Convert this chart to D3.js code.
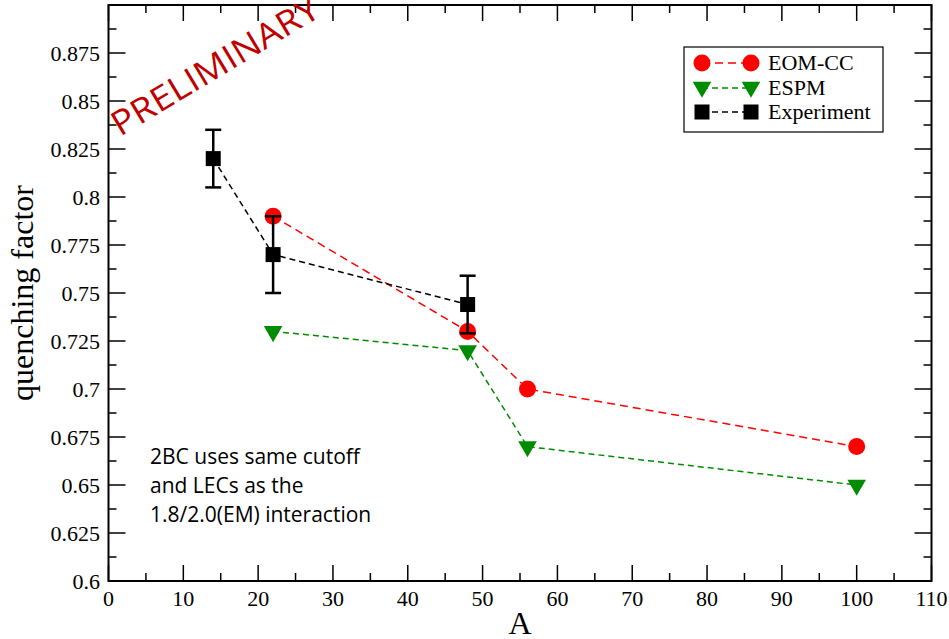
<!DOCTYPE html>
<html lang="en">
<head>
<meta charset="UTF-8">
<title>quenching factor</title>
<script src="https://cdnjs.cloudflare.com/ajax/libs/d3/7.8.5/d3.min.js"></script>
<style>
  body { margin: 0; background: #fff; }
</style>
</head>
<body>
<svg id="chart" width="949" height="639"></svg>
<script>
// data
const eomA = [22, 48, 56, 100];
const eomQ = [0.79, 0.73, 0.70, 0.67];
const espmA = [22, 48, 56, 100];
const espmQ = [0.73, 0.72, 0.67, 0.65];
const expA = [14, 22, 48];
const expQ = [0.82, 0.77, 0.744];
const expErr = [0.015, 0.02, 0.015];

const xTicks = [0, 10, 20, 30, 40, 50, 60, 70, 80, 90, 100, 110];
const yTicks = [0.6, 0.625, 0.65, 0.675, 0.7, 0.725, 0.75, 0.775, 0.8, 0.825, 0.85, 0.875];
const yLabels = ["0.6", "0.625", "0.65", "0.675", "0.7", "0.725", "0.75", "0.775", "0.8", "0.825", "0.85", "0.875"];
const noteLines = ["2BC uses same cutoff", "and LECs as the", "1.8/2.0(EM) interaction"];

const serif = "'Liberation Serif', 'DejaVu Serif', serif";
const sans = "'Open Sans', 'Noto Sans', sans-serif";

const svg = d3.select("#chart");
const pl = 108.5, pr = 931.5, pt = 5, pb = 581;

const x = d3.scaleLinear().domain([0, 110]).range([pl, pr]);
const y = d3.scaleLinear().domain([0.6, 0.9]).range([pb, pt]);

// ticks (inward, on all four sides)
const xMinor = d3.range(5, 110, 10);
const yMinor = d3.range(0, 24).map(i => 0.6125 + i * 0.025).filter(v => v < 0.9);

const ticks = svg.append("g").attr("stroke", "black").attr("stroke-width", 1.5);
xTicks.forEach(v => {
  ticks.append("line").attr("x1", x(v)).attr("x2", x(v)).attr("y1", pb).attr("y2", pb - 16);
  ticks.append("line").attr("x1", x(v)).attr("x2", x(v)).attr("y1", pt).attr("y2", pt + 16);
});
xMinor.forEach(v => {
  ticks.append("line").attr("x1", x(v)).attr("x2", x(v)).attr("y1", pb).attr("y2", pb - 8);
  ticks.append("line").attr("x1", x(v)).attr("x2", x(v)).attr("y1", pt).attr("y2", pt + 8);
});
yTicks.forEach(v => {
  ticks.append("line").attr("y1", y(v)).attr("y2", y(v)).attr("x1", pl).attr("x2", pl + 17);
  ticks.append("line").attr("y1", y(v)).attr("y2", y(v)).attr("x1", pr).attr("x2", pr - 17);
});
yMinor.forEach(v => {
  ticks.append("line").attr("y1", y(v)).attr("y2", y(v)).attr("x1", pl).attr("x2", pl + 8);
  ticks.append("line").attr("y1", y(v)).attr("y2", y(v)).attr("x1", pr).attr("x2", pr - 8);
});

// tick labels
svg.append("g").selectAll("text").data(xTicks).enter().append("text")
  .attr("x", d => x(d)).attr("y", pb + 25)
  .attr("text-anchor", "middle").attr("font-family", serif).attr("font-size", 22)
  .text(d => d);
svg.append("g").selectAll("text").data(yTicks).enter().append("text")
  .attr("x", pl - 8.5).attr("y", d => y(d) + 8)
  .attr("text-anchor", "end").attr("font-family", serif).attr("font-size", 22)
  .text((d, i) => yLabels[i]);

// axis titles
svg.append("text").attr("x", 520).attr("y", 634)
  .attr("text-anchor", "middle").attr("font-family", serif).attr("font-size", 32).text("A");
svg.append("text").attr("transform", `translate(33,${(pt + pb) / 2}) rotate(-90)`)
  .attr("text-anchor", "middle").attr("font-family", serif).attr("font-size", 32).text("quenching factor");

// series
const line = d3.line().x(d => x(d[0])).y(d => y(d[1]));
const eom = eomA.map((a, i) => [a, eomQ[i]]);
const espm = espmA.map((a, i) => [a, espmQ[i]]);
const exp = expA.map((a, i) => [a, expQ[i], expErr[i]]);

svg.append("path").datum(eom).attr("d", line)
  .attr("fill", "none").attr("stroke", "#ff0000").attr("stroke-width", 1.5).attr("stroke-dasharray", "8,5");
svg.append("g").selectAll("circle").data(eom).enter().append("circle")
  .attr("cx", d => x(d[0])).attr("cy", d => y(d[1])).attr("r", 8.5).attr("fill", "#ff0000");

svg.append("path").datum(espm).attr("d", line)
  .attr("fill", "none").attr("stroke", "#008c00").attr("stroke-width", 1.5).attr("stroke-dasharray", "6,4");
const tri = d3.symbol().type(d3.symbolTriangle).size(150);
svg.append("g").selectAll("path").data(espm).enter().append("path")
  .attr("d", tri)
  .attr("transform", d => `translate(${x(d[0])},${y(d[1])}) rotate(180)`)
  .attr("fill", "#008c00");

svg.append("path").datum(exp).attr("d", line)
  .attr("fill", "none").attr("stroke", "black").attr("stroke-width", 1.5).attr("stroke-dasharray", "6,4");
const eb = svg.append("g").attr("stroke", "black").attr("stroke-width", 2.5);
exp.forEach(d => {
  const cx = x(d[0]);
  eb.append("line").attr("x1", cx).attr("x2", cx).attr("y1", y(d[1] - d[2])).attr("y2", y(d[1] + d[2]));
  eb.append("line").attr("x1", cx - 8).attr("x2", cx + 8).attr("y1", y(d[1] - d[2])).attr("y2", y(d[1] - d[2]));
  eb.append("line").attr("x1", cx - 8).attr("x2", cx + 8).attr("y1", y(d[1] + d[2])).attr("y2", y(d[1] + d[2]));
});
svg.append("g").selectAll("rect").data(exp).enter().append("rect")
  .attr("x", d => x(d[0]) - 7.5).attr("y", d => y(d[1]) - 7.5)
  .attr("width", 15).attr("height", 15).attr("fill", "black");

// frame
svg.append("rect").attr("x", pl).attr("y", pt).attr("width", pr - pl).attr("height", pb - pt)
  .attr("fill", "none").attr("stroke", "black").attr("stroke-width", 2);

// legend
const lg = svg.append("g");
lg.append("rect").attr("x", 684).attr("y", 47).attr("width", 199).attr("height", 85)
  .attr("fill", "white").attr("stroke", "black").attr("stroke-width", 1.2);
const legendItems = [
  { name: "EOM-CC", color: "#ff0000", dash: "8,5", sym: "circle", yy: 63 },
  { name: "ESPM", color: "#008c00", dash: "6,4", sym: "tri", yy: 88 },
  { name: "Experiment", color: "black", dash: "6,4", sym: "square", yy: 112 }
];
legendItems.forEach(it => {
  lg.append("line").attr("x1", 702).attr("x2", 751).attr("y1", it.yy).attr("y2", it.yy)
    .attr("stroke", it.color).attr("stroke-width", 1.5).attr("stroke-dasharray", it.dash);
  [702, 751].forEach(px => {
    if (it.sym === "circle") {
      lg.append("circle").attr("cx", px).attr("cy", it.yy).attr("r", 8.5).attr("fill", it.color);
    } else if (it.sym === "tri") {
      lg.append("path").attr("d", tri).attr("transform", `translate(${px},${it.yy - 1}) rotate(180)`).attr("fill", it.color);
    } else {
      lg.append("rect").attr("x", px - 7.5).attr("y", it.yy - 7.5).attr("width", 15).attr("height", 15).attr("fill", it.color);
    }
  });
  lg.append("text").attr("x", 768).attr("y", it.yy + 7).attr("font-family", serif).attr("font-size", 22).text(it.name);
});

// annotation
svg.append("g").selectAll("text").data(noteLines).enter().append("text")
  .attr("x", 150).attr("y", (d, i) => 464 + i * 29)
  .attr("font-family", sans).attr("font-size", 21)
  .text(d => d);

// watermark
svg.append("text")
  .attr("transform", "translate(120,137) rotate(-31)")
  .attr("font-family", sans)
  .attr("font-size", 34).attr("fill", "#c00000")
  .attr("textLength", 236).attr("lengthAdjust", "spacingAndGlyphs")
  .text("PRELIMINARY");
</script>
</body>
</html>
